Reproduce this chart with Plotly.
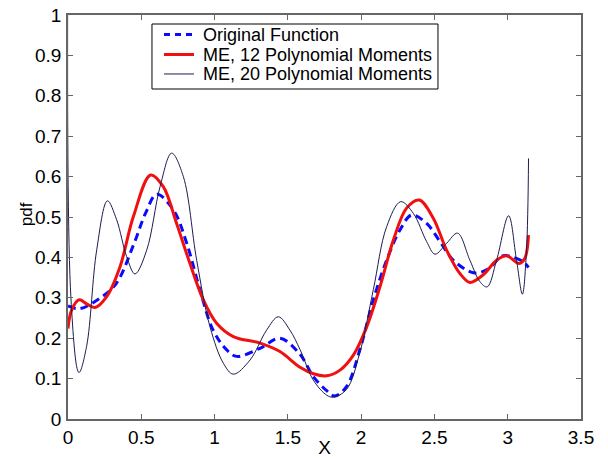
import plotly.graph_objects as go

# Original function (blue dashed)
x_orig = [0.0, 0.08, 0.218, 0.33, 0.446, 0.53, 0.605, 0.72, 0.81, 0.9, 0.99, 1.083, 1.15,
          1.31, 1.446, 1.583, 1.674, 1.765, 1.82, 1.9, 1.99, 2.083, 2.174, 2.265, 2.345,
          2.447, 2.538, 2.629, 2.765, 2.856, 2.97, 3.04, 3.106, 3.142]
y_orig = [0.28, 0.273, 0.299, 0.336, 0.43, 0.51, 0.556, 0.517, 0.435, 0.32, 0.22, 0.171, 0.155,
          0.175, 0.2, 0.16, 0.105, 0.07, 0.057, 0.08, 0.17, 0.295, 0.393, 0.468, 0.505,
          0.484, 0.439, 0.393, 0.362, 0.369, 0.404, 0.4, 0.389, 0.375]

# ME, 12 polynomial moments (red)
x_me12 = [0.0, 0.025, 0.077, 0.127, 0.184, 0.264, 0.355, 0.446, 0.564, 0.65, 0.741, 0.832,
          0.923, 1.014, 1.128, 1.31, 1.446, 1.583, 1.674, 1.765, 1.856, 1.947, 2.038, 2.129,
          2.22, 2.31, 2.396, 2.492, 2.583, 2.674, 2.742, 2.833, 2.924, 2.992, 3.078, 3.117, 3.142]
y_me12 = [0.224, 0.27, 0.295, 0.285, 0.276, 0.303, 0.377, 0.501, 0.604, 0.575, 0.484, 0.385,
          0.295, 0.237, 0.204, 0.188, 0.167, 0.128, 0.112, 0.107, 0.121, 0.158, 0.228, 0.328,
          0.443, 0.522, 0.542, 0.497, 0.418, 0.36, 0.338, 0.357, 0.393, 0.404, 0.385, 0.398, 0.455]

# ME, 20 polynomial moments (dark thin)
x_me20 = [0.0, 0.02, 0.075, 0.127, 0.196, 0.269, 0.332, 0.4, 0.457, 0.537, 0.628, 0.707,
          0.787, 0.878, 0.969, 1.06, 1.128, 1.242, 1.355, 1.435, 1.514, 1.583, 1.674, 1.765,
          1.81, 1.9, 1.99, 2.083, 2.174, 2.27, 2.356, 2.447, 2.504, 2.583, 2.658, 2.742,
          2.81, 2.86, 2.924, 3.006, 3.06, 3.1, 3.128, 3.142]
y_me20 = [1.25, 0.3, 0.115, 0.18, 0.419, 0.54, 0.493, 0.402, 0.359, 0.418, 0.575, 0.658,
          0.6, 0.393, 0.228, 0.138, 0.111, 0.146, 0.22, 0.253, 0.22, 0.172, 0.096, 0.059,
          0.054, 0.073, 0.163, 0.32, 0.476, 0.538, 0.509, 0.439, 0.408, 0.435, 0.46, 0.393,
          0.34, 0.327, 0.393, 0.503, 0.393, 0.309, 0.418, 0.645]

series_names = ["Original Function", "ME, 12 Polynomial Moments", "ME, 20 Polynomial Moments"]

x_ticks = [0, 0.5, 1, 1.5, 2, 2.5, 3, 3.5]
x_tick_labels = ["0", "0.5", "1", "1.5", "2", "2.5", "3", "3.5"]
y_ticks = [0, 0.1, 0.2, 0.3, 0.4, 0.5, 0.6, 0.7, 0.8, 0.9, 1]
y_tick_labels = ["0", "0.1", "0.2", "0.3", "0.4", "0.5", "0.6", "0.7", "0.8", "0.9", "1"]

FONT = "Liberation Sans, Arial, Helvetica, sans-serif"
BLUE = "#0a0aff"
RED = "#f01010"
NAVY = "#1c1c50"

styles = [
    dict(color=BLUE, width=3, dash="8px,5px"),
    dict(color=RED, width=3),
    dict(color=NAVY, width=1),
]
legend_styles = [
    dict(color=BLUE, width=3, dash="6px,5px"),
    dict(color=RED, width=3),
    dict(color=NAVY, width=1),
]

fig = go.Figure()
for xs, ys, nm, st in zip([x_orig, x_me12, x_me20], [y_orig, y_me12, y_me20], series_names, styles):
    fig.add_trace(go.Scatter(x=xs, y=ys, mode="lines", name=nm, showlegend=False,
                             line=dict(shape="spline", smoothing=1.0, **st)))

axis_common = dict(showline=True, linecolor="#666666", linewidth=1.5, mirror="ticks",
                   ticks="inside", ticklen=5, tickcolor="#666666", showgrid=False,
                   zeroline=False, automargin=False,
                   tickfont=dict(family=FONT, size=19, color="black"))

fig.update_xaxes(range=[0, 3.5], tickvals=x_ticks, ticktext=x_tick_labels,
                 ticklabelstandoff=0,
                 title=dict(text="X", font=dict(family=FONT, size=19, color="black"), standoff=3),
                 **axis_common)
fig.update_yaxes(range=[0, 1], tickvals=y_ticks, ticktext=y_tick_labels,
                 ticklabelstandoff=1,
                 **axis_common)

# Legend drawn in paper coordinates (plot area: 513 x 404 px)
box_x0, box_x1, box_y0, box_y1 = 0.1637, 0.7212, 0.8168, 0.9777
line_x0, line_x1, text_x = 0.1871, 0.2456, 0.2593
row_y = [0.9517, 0.9022, 0.8540]

shapes = [dict(type="rect", xref="paper", yref="paper", x0=box_x0, x1=box_x1, y0=box_y0, y1=box_y1,
               line=dict(color="black", width=1), fillcolor="white", layer="above")]
annotations = []
for ry, nm, st in zip(row_y, series_names, legend_styles):
    shapes.append(dict(type="line", xref="paper", yref="paper", x0=line_x0, x1=line_x1, y0=ry, y1=ry,
                       line=st, layer="above"))
    annotations.append(dict(xref="paper", yref="paper", x=text_x, y=ry, text=nm, showarrow=False,
                            xanchor="left", yanchor="middle",
                            font=dict(family=FONT, size=18, color="black")))

# y-axis title "pdf"
annotations.append(dict(xref="paper", yref="paper", x=-0.0819, y=0.507, text="pdf", showarrow=False,
                        textangle=-90, xanchor="center", yanchor="middle",
                        font=dict(family=FONT, size=17, color="black")))

fig.update_layout(
    width=608, height=458,
    margin=dict(l=68, r=27, t=15, b=39, autoexpand=False),
    plot_bgcolor="white", paper_bgcolor="white",
    font=dict(family=FONT, size=18, color="black"),
    showlegend=False,
    shapes=shapes,
    annotations=annotations,
)

fig.write_html("out.html")
